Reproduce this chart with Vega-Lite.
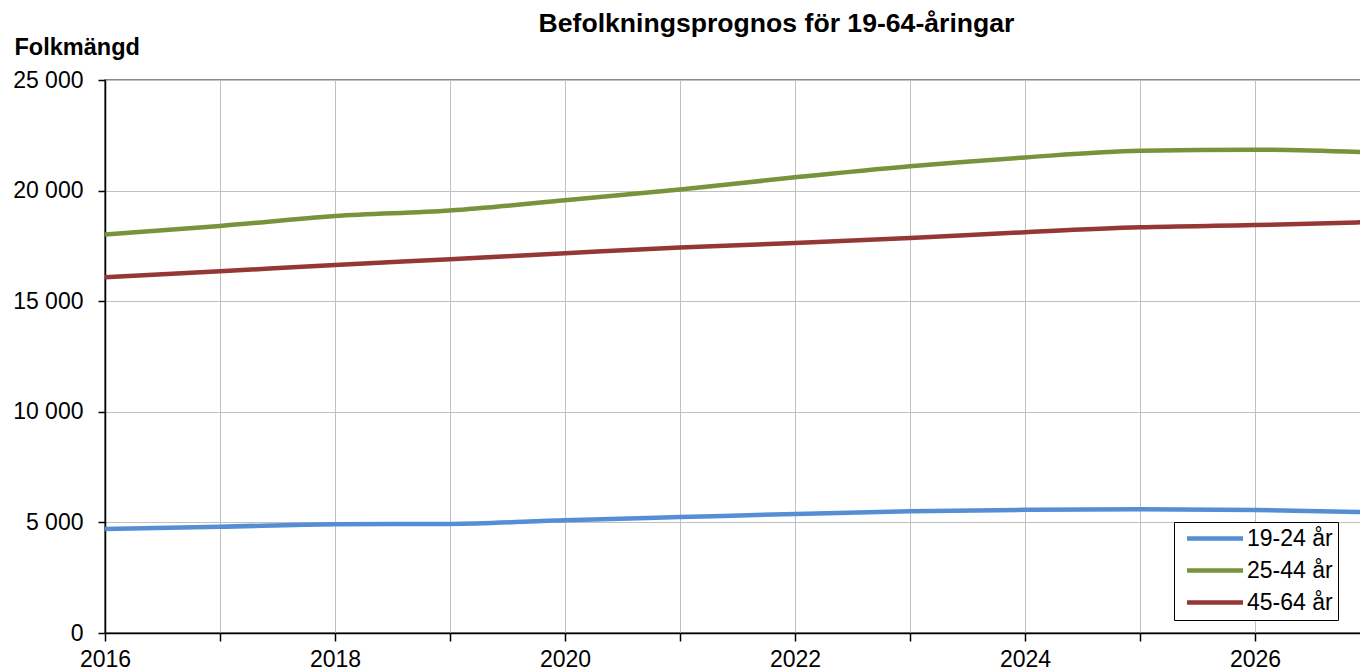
{
  "$schema": "https://vega.github.io/schema/vega-lite/v6.json",
  "width": 1265,
  "height": 553,
  "autosize": {"type": "none"},
  "padding": {"left": 105, "top": 80, "right": 0, "bottom": 38},
  "background": "white",
  "title": {
    "text": "Befolkningsprognos för 19-64-åringar",
    "font": "Liberation Sans",
    "fontSize": 26.6,
    "fontWeight": "bold",
    "color": "black",
    "anchor": "middle",
    "dx": 39,
    "offset": -3
  },
  "config": {
    "view": {"stroke": "#898989", "strokeWidth": 2},
    "axis": {
      "labelFont": "Liberation Sans",
      "labelFontSize": 23,
      "labelColor": "black",
      "domainColor": "black",
      "domainWidth": 1.5,
      "tickColor": "black",
      "tickWidth": 1.5,
      "tickSize": 8,
      "gridColor": "#c0c0c0",
      "gridWidth": 1,
      "gridOpacity": 1
    }
  },
  "data": {
    "values": [
      {"year": 2016, "group": "19-24 år", "value": 4700},
      {"year": 2017, "group": "19-24 år", "value": 4800},
      {"year": 2018, "group": "19-24 år", "value": 4920},
      {"year": 2019, "group": "19-24 år", "value": 4930},
      {"year": 2020, "group": "19-24 år", "value": 5100},
      {"year": 2021, "group": "19-24 år", "value": 5240},
      {"year": 2022, "group": "19-24 år", "value": 5380},
      {"year": 2023, "group": "19-24 år", "value": 5500},
      {"year": 2024, "group": "19-24 år", "value": 5570},
      {"year": 2025, "group": "19-24 år", "value": 5600},
      {"year": 2026, "group": "19-24 år", "value": 5560},
      {"year": 2027, "group": "19-24 år", "value": 5460},
      {"year": 2016, "group": "25-44 år", "value": 18020},
      {"year": 2017, "group": "25-44 år", "value": 18400},
      {"year": 2018, "group": "25-44 år", "value": 18850},
      {"year": 2019, "group": "25-44 år", "value": 19100},
      {"year": 2020, "group": "25-44 år", "value": 19560},
      {"year": 2021, "group": "25-44 år", "value": 20050},
      {"year": 2022, "group": "25-44 år", "value": 20600},
      {"year": 2023, "group": "25-44 år", "value": 21100},
      {"year": 2024, "group": "25-44 år", "value": 21500},
      {"year": 2025, "group": "25-44 år", "value": 21800},
      {"year": 2026, "group": "25-44 år", "value": 21850},
      {"year": 2027, "group": "25-44 år", "value": 21730},
      {"year": 2016, "group": "45-64 år", "value": 16080},
      {"year": 2017, "group": "45-64 år", "value": 16350},
      {"year": 2018, "group": "45-64 år", "value": 16640},
      {"year": 2019, "group": "45-64 år", "value": 16900},
      {"year": 2020, "group": "45-64 år", "value": 17170},
      {"year": 2021, "group": "45-64 år", "value": 17430},
      {"year": 2022, "group": "45-64 år", "value": 17630},
      {"year": 2023, "group": "45-64 år", "value": 17860},
      {"year": 2024, "group": "45-64 år", "value": 18120},
      {"year": 2025, "group": "45-64 år", "value": 18340},
      {"year": 2026, "group": "45-64 år", "value": 18440},
      {"year": 2027, "group": "45-64 år", "value": 18580}
    ]
  },
  "mark": {"type": "line", "interpolate": "monotone", "strokeWidth": 4.5, "clip": true},
  "encoding": {
    "x": {
      "field": "year",
      "type": "quantitative",
      "scale": {"domain": [2016, 2027], "nice": false, "zero": false},
      "axis": {
        "title": null,
        "values": [2016, 2017, 2018, 2019, 2020, 2021, 2022, 2023, 2024, 2025, 2026, 2027],
        "format": "d",
        "labelExpr": "datum.value % 2 == 0 ? datum.label : ''",
        "labelPadding": 7,
        "labelFlush": false,
        "labelOverlap": false
      }
    },
    "y": {
      "field": "value",
      "type": "quantitative",
      "scale": {"domain": [0, 25000], "nice": false},
      "axis": {
        "title": "Folkmängd",
        "titleFont": "Liberation Sans",
        "titleFontSize": 23.5,
        "titleFontWeight": "bold",
        "titleColor": "black",
        "titleAngle": 0,
        "titleAlign": "left",
        "titleBaseline": "alphabetic",
        "titleX": -91,
        "titleY": -26,
        "values": [0, 5000, 10000, 15000, 20000, 25000],
        "format": ",d",
        "labelExpr": "replace(datum.label, ',', ' ')",
        "labelPadding": 15,
        "tickSize": 7
      }
    },
    "color": {
      "field": "group",
      "type": "nominal",
      "scale": {
        "domain": ["19-24 år", "25-44 år", "45-64 år"],
        "range": ["#558ED5", "#77933C", "#953735"]
      },
      "legend": {
        "title": null,
        "orient": "none",
        "legendX": 1069,
        "legendY": 442,
        "symbolType": "stroke",
        "symbolStrokeWidth": 4.5,
        "symbolSize": 3136,
        "symbolOffset": 5.5,
        "labelFont": "Liberation Sans",
        "labelFontSize": 23,
        "labelColor": "black",
        "labelOffset": 1.5,
        "strokeColor": "black",
        "fillColor": "white",
        "padding": 5,
        "clipHeight": 23,
        "rowPadding": 8
      }
    }
  }
}
